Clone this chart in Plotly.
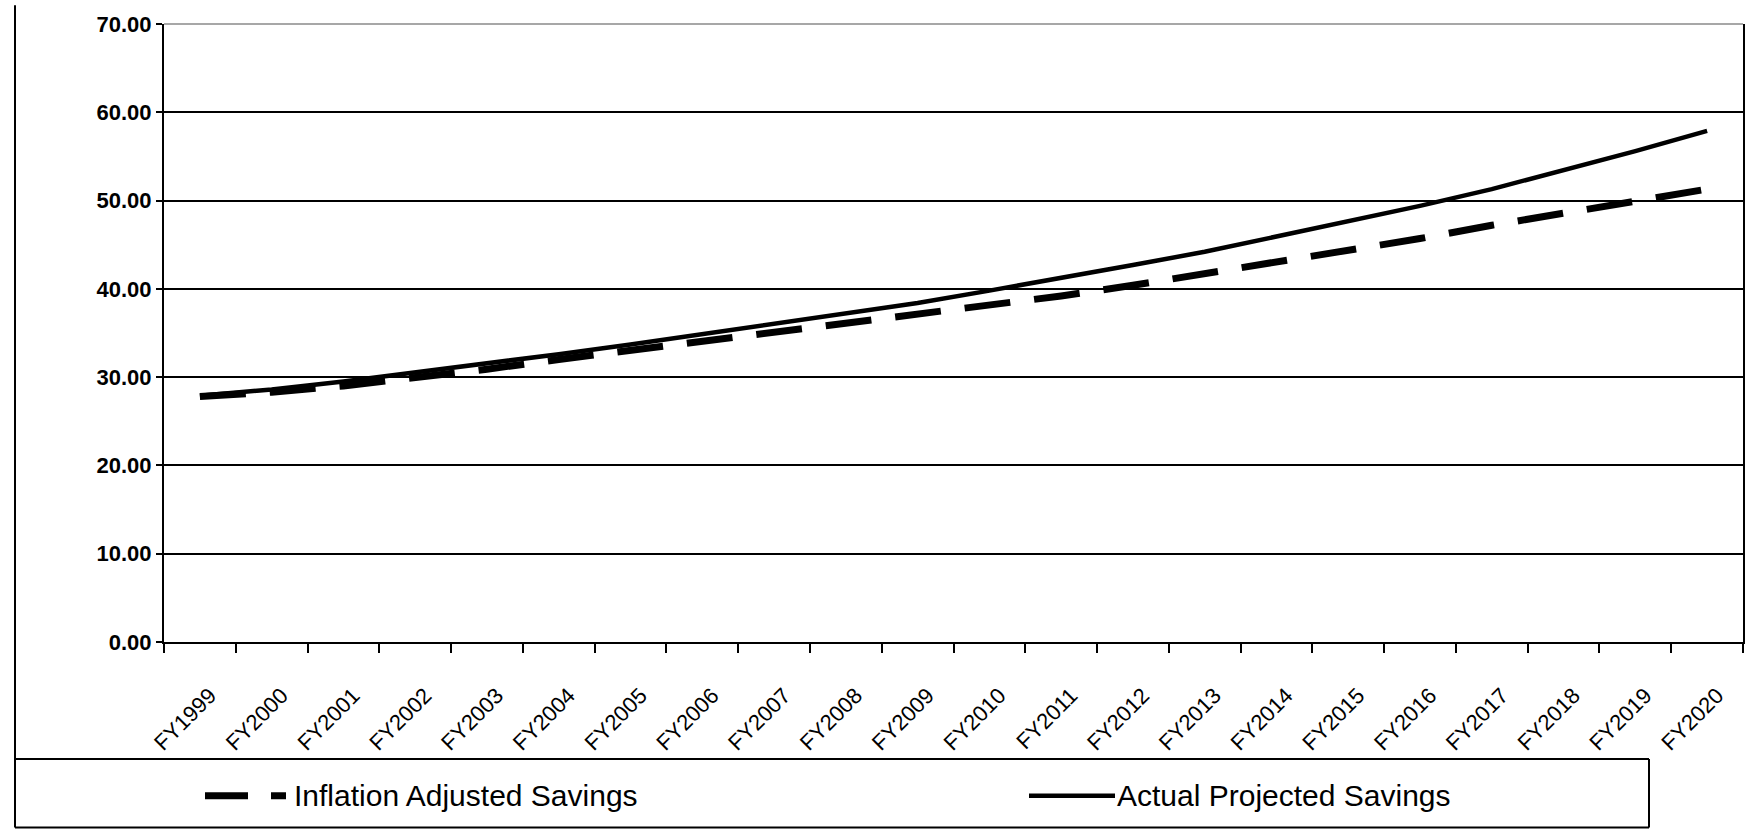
import plotly.graph_objects as go

# Fiscal years on the category axis
fiscal_years = [
    "FY1999", "FY2000", "FY2001", "FY2002", "FY2003", "FY2004", "FY2005",
    "FY2006", "FY2007", "FY2008", "FY2009", "FY2010", "FY2011", "FY2012",
    "FY2013", "FY2014", "FY2015", "FY2016", "FY2017", "FY2018", "FY2019",
    "FY2020",
]

# Projected savings per fiscal year
actual_projected = [
    27.9, 28.6, 29.5, 30.5, 31.5, 32.6, 33.7, 34.9, 36.0, 37.2, 38.4,
    39.8, 41.2, 42.7, 44.2, 45.9, 47.6, 49.4, 51.3, 53.4, 55.6, 57.9,
]
inflation_adjusted = [
    27.8, 28.3, 29.0, 29.9, 30.9, 32.0, 33.0, 34.0, 35.1, 36.1, 37.1,
    38.1, 39.2, 40.4, 41.7, 43.0, 44.3, 45.7, 47.2, 48.6, 49.9, 51.3,
]

y_ticks = [0, 10, 20, 30, 40, 50, 60, 70]

series_names = ["Inflation Adjusted Savings", "Actual Projected Savings"]

W, H = 1757, 836
L, R, T, B = 164, 1743, 19, 642   # plot area edges in page pixels

SANS = "Liberation Sans, Arial, Helvetica, sans-serif"


def px_x(px):
    return (px - L) / (R - L)


def px_y(py):
    return (B - py) / (B - T)


fig = go.Figure()
fig.add_trace(go.Scatter(
    x=fiscal_years, y=inflation_adjusted, mode="lines",
    name=series_names[0],
    line=dict(color="black", width=7, dash="46px,24px"),
))
fig.add_trace(go.Scatter(
    x=fiscal_years, y=actual_projected, mode="lines",
    name=series_names[1],
    line=dict(color="black", width=4.5),
))

shapes = []


def paper_line(x0, y0, x1, y1, color="black", width=2, dash=None):
    shapes.append(dict(
        type="line", xref="paper", yref="paper",
        x0=px_x(x0), y0=px_y(y0), x1=px_x(x1), y1=px_y(y1),
        line=dict(color=color, width=width, dash=dash),
        layer="above",
    ))


# faded top border of the plot area
paper_line(L, T, R, T, color="white", width=3)
paper_line(L, T, R, T, color="#8a8a8a", width=1.5)

# outer frame on the left and the legend box
paper_line(15, 0, 15, 829, width=2)
paper_line(15, 760, 1649, 760, width=2)
paper_line(15, 829, 1649, 829, width=2)
paper_line(1649, 760, 1649, 829, width=2)

# legend samples
ly = 797
paper_line(205, ly, 248, ly, width=7)
paper_line(271, ly, 286, ly, width=7)
paper_line(1029, ly, 1115, ly, width=4.5)

annotations = [
    dict(xref="paper", yref="paper", x=px_x(292), y=px_y(ly),
         text=series_names[0], showarrow=False, xanchor="left",
         yanchor="middle", font=dict(family=SANS, size=30, color="black")),
    dict(xref="paper", yref="paper", x=px_x(1115), y=px_y(ly),
         text=series_names[1], showarrow=False, xanchor="left",
         yanchor="middle", font=dict(family=SANS, size=30, color="black")),
]

fig.update_layout(
    width=W, height=H,
    margin=dict(l=L, r=W - R, t=T, b=H - B, pad=0),
    paper_bgcolor="white", plot_bgcolor="white",
    showlegend=False,
    shapes=shapes,
    annotations=annotations,
    xaxis=dict(
        type="category", range=[-0.5, len(fiscal_years) - 0.5],
        tickson="boundaries", ticks="outside", ticklen=9, tickwidth=1.5,
        tickcolor="black", showline=True, linecolor="black", linewidth=2,
        showgrid=False, tickangle=-45,
        ticklabelstandoff=30, ticklabelshift=10,
        tickfont=dict(family=SANS, size=22, color="black"),
    ),
    yaxis=dict(
        range=[0, 70], tickvals=y_ticks, tickformat=".2f",
        showgrid=True, gridcolor="black", gridwidth=1.5,
        showline=True, linecolor="black", linewidth=2, mirror=True,
        ticks="outside", ticklen=6, tickwidth=1.5, tickcolor="black",
        zeroline=False,
        tickfont=dict(family=SANS, size=22, color="black", weight="bold"),
    ),
)

fig.write_html("out.html")
